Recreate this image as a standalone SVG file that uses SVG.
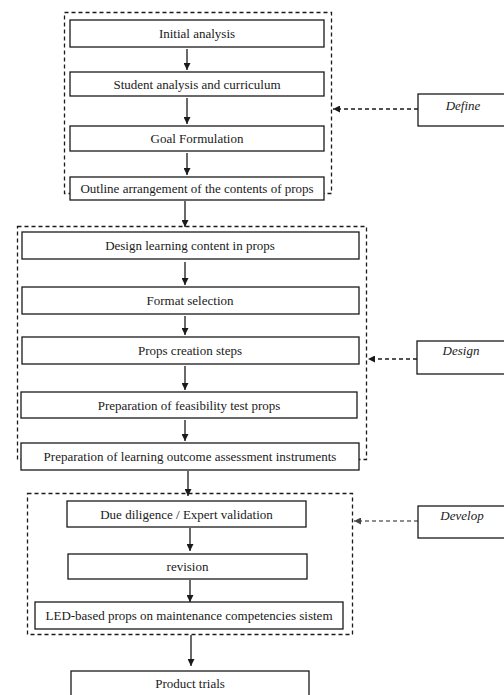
<svg xmlns="http://www.w3.org/2000/svg" width="504" height="695" viewBox="0 0 504 695">
<style>
.box{fill:#fff;stroke:#1a1a1a;stroke-width:1.3}
.grp{fill:none;stroke:#1a1a1a;stroke-width:1.3;stroke-dasharray:4 3}
.t{font-family:"Liberation Serif","Times New Roman",serif;font-size:13px;fill:#1a1a1a;text-anchor:middle}
.it{font-style:italic}
.a{stroke:#1a1a1a;stroke-width:1.3;fill:none}
.da{stroke:#1a1a1a;stroke-width:1.3;fill:none;stroke-dasharray:4 3}
.g{stroke:#6a6a6a}
</style>
<defs>
<marker id="ah" viewBox="0 0 7 7" refX="7" refY="3.5" markerWidth="7" markerHeight="7" markerUnits="userSpaceOnUse" orient="auto"><path d="M0,0 L7,3.5 L0,7 z" fill="#1a1a1a"/></marker>
<marker id="ahg" viewBox="0 0 7 7" refX="7" refY="3.5" markerWidth="7" markerHeight="7" markerUnits="userSpaceOnUse" orient="auto"><path d="M0,0 L7,3.5 L0,7 z" fill="#444"/></marker>
</defs>
<rect width="504" height="695" fill="#fff"/>
<g id="phase-define"><rect class="grp" x="64.5" y="12.5" width="267" height="181"/></g>
<g id="phase-design"><rect class="grp" x="17.5" y="226.5" width="349" height="233"/></g>
<g id="phase-develop"><rect class="grp" x="27.5" y="493.5" width="325" height="141"/></g>
<g id="connectors">
<line class="a" x1="187" y1="49" x2="187" y2="70" marker-end="url(#ah)"/>
<line class="a" x1="187" y1="98" x2="187" y2="124" marker-end="url(#ah)"/>
<line class="a" x1="187" y1="153" x2="187" y2="175" marker-end="url(#ah)"/>
<line class="a" x1="185" y1="201" x2="185" y2="227" marker-end="url(#ah)"/>
<line class="a" x1="185" y1="262" x2="185" y2="285" marker-end="url(#ah)"/>
<line class="a" x1="185" y1="316" x2="185" y2="335" marker-end="url(#ah)"/>
<line class="a" x1="185" y1="366" x2="185" y2="390" marker-end="url(#ah)"/>
<line class="a" x1="185" y1="420" x2="185" y2="441" marker-end="url(#ah)"/>
<line class="a" x1="188" y1="471" x2="188" y2="496" marker-end="url(#ah)"/>
<line class="a" x1="190" y1="528" x2="190" y2="551" marker-end="url(#ah)"/>
<line class="a" x1="190" y1="580" x2="190" y2="602" marker-end="url(#ah)"/>
<line class="a" x1="191" y1="635" x2="191" y2="666" marker-end="url(#ah)"/>
<line class="da" x1="418" y1="109" x2="333" y2="109" marker-end="url(#ah)"/>
<line class="da" x1="417" y1="359" x2="368" y2="359" marker-end="url(#ah)"/>
<line class="da g" x1="418" y1="521" x2="354" y2="521" marker-end="url(#ahg)"/>
</g>
<g id="n1"><rect class="box" x="70" y="20" width="254" height="27"/><text class="t" x="197" y="38">Initial analysis</text></g>
<g id="n2"><rect class="box" x="70" y="72" width="254" height="24"/><text class="t" x="197" y="88.5">Student analysis and curriculum</text></g>
<g id="n3"><rect class="box" x="70" y="126" width="254" height="25"/><text class="t" x="197" y="143">Goal Formulation</text></g>
<g id="n4"><rect class="box" x="70" y="177" width="254" height="23"/><text class="t" x="197" y="193">Outline arrangement of the contents of props</text></g>
<g id="n5"><rect class="box" x="22" y="232" width="337" height="27"/><text class="t" x="190" y="250">Design learning content in props</text></g>
<g id="n6"><rect class="box" x="22" y="287" width="337" height="27"/><text class="t" x="190" y="305">Format selection</text></g>
<g id="n7"><rect class="box" x="22" y="337" width="337" height="27"/><text class="t" x="190" y="355">Props creation steps</text></g>
<g id="n8"><rect class="box" x="21" y="392" width="336" height="26"/><text class="t" x="189" y="409.5">Preparation of feasibility test props</text></g>
<g id="n9"><rect class="box" x="21" y="443" width="338" height="27"/><text class="t" x="190" y="461">Preparation of learning outcome assessment instruments</text></g>
<g id="n10"><rect class="box" x="67" y="501" width="239" height="26"/><text class="t" x="186.5" y="518.5">Due diligence / Expert validation</text></g>
<g id="n11"><rect class="box" x="68" y="554" width="239" height="25"/><text class="t" x="187.5" y="571">revision</text></g>
<g id="n12"><rect class="box" x="35" y="602" width="308" height="27"/><text class="t" x="189" y="620">LED-based props on maintenance competencies sistem</text></g>
<g id="n13"><rect class="box" x="71" y="671" width="238" height="40"/><text class="t" x="190" y="688">Product trials</text></g>
<g id="label-define"><rect class="box" x="418" y="94" width="100" height="32"/><text class="t it" x="463" y="110">Define</text></g>
<g id="label-design"><rect class="box" x="417" y="341" width="100" height="33"/><text class="t it" x="461" y="355">Design</text></g>
<g id="label-develop"><rect class="box" x="418" y="506" width="100" height="32"/><text class="t it" x="462" y="520">Develop</text></g>
</svg>
